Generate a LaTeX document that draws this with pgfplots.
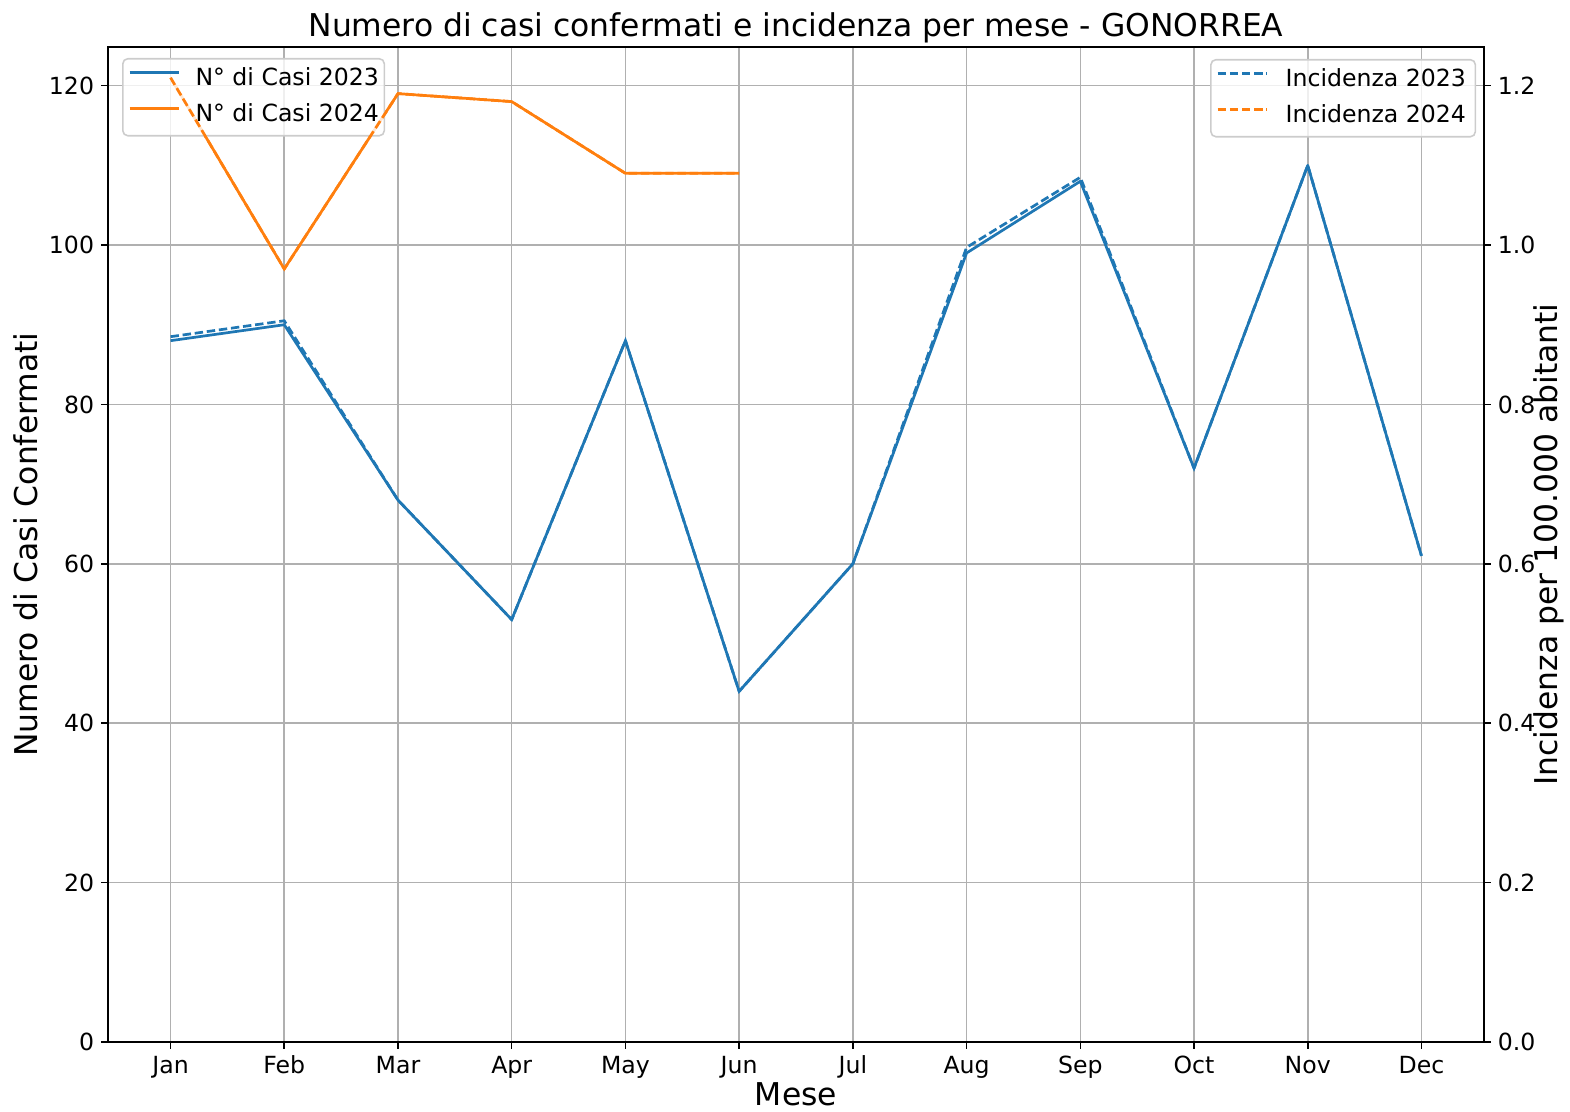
\documentclass[border=0pt]{standalone}
\usepackage{pgfplots}
\pgfplotsset{compat=1.18}
\usepackage{fontspec}
\setmainfont{DejaVu Sans}
\definecolor{tabblue}{HTML}{1F77B4}
\definecolor{taborange}{HTML}{FF7F0E}
\definecolor{gridgray}{HTML}{B0B0B0}
\definecolor{legedge}{HTML}{CCCCCC}
\newcommand{\tickfont}{\fontsize{11.8}{14}\selectfont}
\newcommand{\labfont}{\fontsize{15.7}{18}\selectfont}
\pgfplotsset{
  common/.style={
    width=688pt, height=497.5pt, scale only axis,
    xmin=-0.55, xmax=11.55,
    tick align=outside,
    major tick length=3.45pt,
    every tick/.style={black, line width=0.79pt},
    axis line style={line width=0.79pt},
    tick label style={font=\tickfont},
    /pgf/number format/assume math mode=true,
    legend cell align=left,
    legend style={font=\tickfont, draw=legedge, line width=0.79pt, rounded corners=2.5pt,
      fill=white, fill opacity=0.8, text opacity=1, draw opacity=1,
      inner xsep=2.7pt, inner ysep=4.6pt, row sep=6.7pt, column sep=0pt,
      nodes={inner xsep=0pt, inner ysep=0pt, text height=8.7pt, text depth=2.6pt}},
    legend image code/.code={\draw[#1] (0pt,3.2pt) -- (24.5pt,3.2pt); \path[draw=none,fill=none] (0pt,3.2pt) (33pt,3.2pt);},
  }
}
\begin{document}
\begin{tikzpicture}
\begin{axis}[common,
  ymin=0, ymax=124.85,
  xtick={0,1,2,3,4,5,6,7,8,9,10,11},
  xticklabels={Jan,Feb,Mar,Apr,May,Jun,Jul,Aug,Sep,Oct,Nov,Dec},
  ytick={0,20,40,60,80,100,120},
  xtick pos=left, ytick pos=left,
  xmajorgrids, ymajorgrids,
  major grid style={gridgray, line width=0.79pt},
  legend style={at={(0.0102,0.989)}, anchor=north west},
]
\addplot[tabblue, line width=1.35pt, line join=round] coordinates {
(0,88) (1,90) (2,68) (3,53) (4,88) (5,44) (6,60) (7,99) (8,108) (9,72) (10,110) (11,61)};
\addlegendentry{N° di Casi 2023}
\addplot[taborange, line width=1.35pt, line join=round] coordinates {
(0,121) (1,97) (2,119) (3,118) (4,109) (5,109)};
\addlegendentry{N° di Casi 2024}
\end{axis}
\begin{axis}[common,
  ymin=0, ymax=1.2485,
  axis x line=none, axis y line*=right,
  xtick=\empty,
  ytick={0,0.2,0.4,0.6,0.8,1.0,1.2},
  yticklabel style={/pgf/number format/.cd, fixed, fixed zerofill, precision=1},
  legend style={at={(0.9943,0.988)}, anchor=north east,
    nodes={inner xsep=2pt, inner ysep=0pt, text height=8.7pt, text depth=2.6pt}},
  legend image code/.code={\draw[#1] (0pt,3.2pt) -- (24.5pt,3.2pt); \path[draw=none,fill=none] (0pt,3.2pt) (32pt,3.2pt);},
]
\addplot[tabblue, line width=1.35pt, dash pattern=on 4.2pt off 1.9pt] coordinates {
(0,0.885) (1,0.905) (2,0.68) (3,0.53) (4,0.88) (5,0.44) (6,0.60) (7,0.997) (8,1.085) (9,0.72) (10,1.10) (11,0.61)};
\addlegendentry{Incidenza 2023}
\addplot[taborange, line width=1.35pt, dash pattern=on 4.2pt off 1.9pt] coordinates {
(0,1.21) (1,0.97) (2,1.19) (3,1.18) (4,1.09) (5,1.09)};
\addlegendentry{Incidenza 2024}
\coordinate (SW) at (rel axis cs:0,0);
\coordinate (NE) at (rel axis cs:1,1);
\coordinate (TC) at (rel axis cs:0.5,1);
\coordinate (BC) at (rel axis cs:0.5,0);
\coordinate (LC) at (rel axis cs:0,0.5);
\coordinate (RC) at (rel axis cs:1,0.5);
\end{axis}
\node[anchor=base, font=\labfont, inner sep=0pt] at ([yshift=5pt]TC) {Numero di casi confermati e incidenza per mese - GONORREA};
\node[anchor=base, font=\labfont, inner sep=0pt] at ([yshift=-31.5pt]BC) {Mese};
\node[anchor=base, font=\labfont, inner sep=0pt, rotate=90] at ([xshift=-35pt]LC) {Numero di Casi Confermati};
\node[anchor=base, font=\labfont, inner sep=0pt, rotate=90] at ([xshift=36.5pt]RC) {Incidenza per 100.000 abitanti};
\pgfresetboundingbox
\path[use as bounding box] ([xshift=-54pt,yshift=-34.5pt]SW) rectangle ([xshift=43pt,yshift=23.5pt]NE);
\end{tikzpicture}
\end{document}
